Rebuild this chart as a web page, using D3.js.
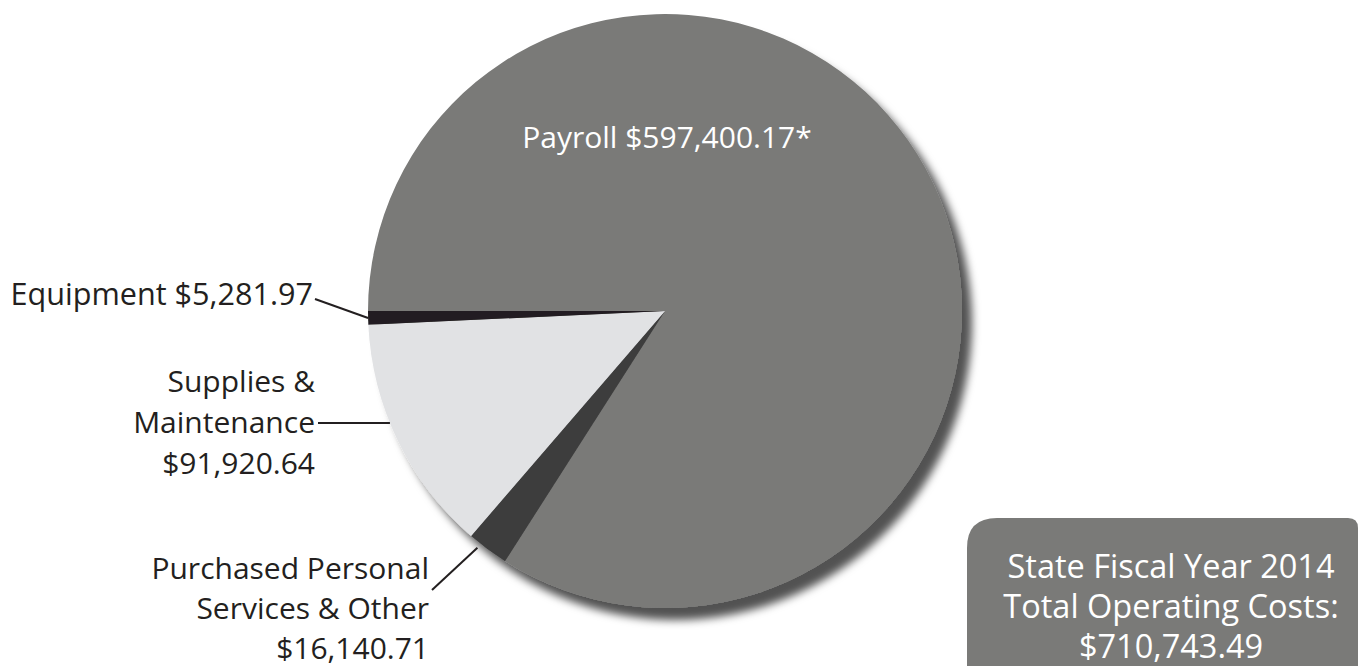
<!DOCTYPE html>
<html>
<head>
<meta charset="UTF-8">
<style>
    body { margin: 0; background: #fff; }
    text { font-family: "Open Sans", sans-serif; font-size: 30px; }
    .lbl { fill: #231f20; text-anchor: end; }
    .leader { stroke: #231f20; stroke-width: 2; fill: none; }
</style>
<script src="https://cdn.jsdelivr.net/npm/d3@7"></script>
</head>
<body>
<script>
// Donnees (ordre horaire a partir de 9 h)
var categories = ["Payroll", "Purchased Personal Services & Other", "Supplies & Maintenance", "Equipment"];
var values = [597400.17, 16140.71, 91920.64, 5281.97];
var valueLabels = ["$597,400.17*", "$16,140.71", "$91,920.64", "$5,281.97"];
var colors = ["#7a7a78", "#3e3e3e", "#e1e2e4", "#231f20"];
var totalLines = ["State Fiscal Year 2014", "Total Operating Costs:", "$710,743.49"];

var width = 1359, height = 666;
var cx = 665, cy = 311, radius = 297;

var svg = d3.select("body").append("svg")
    .attr("width", width)
    .attr("height", height);

// ombre portee
var filter = svg.append("defs").append("filter")
    .attr("id", "shadow")
    .attr("x", "-10%").attr("y", "-10%")
    .attr("width", "130%").attr("height", "130%");
filter.append("feDropShadow")
    .attr("dx", 10).attr("dy", 12)
    .attr("stdDeviation", 4)
    .attr("flood-color", "#000")
    .attr("flood-opacity", 0.68);

var data = categories.map(function(c, i) { return {name: c, value: values[i], color: colors[i]}; });

var pie = d3.pie()
    .sort(null)
    .startAngle(-Math.PI / 2)
    .endAngle(3 * Math.PI / 2)
    .value(function(d) { return d.value; });

var arc = d3.arc().innerRadius(0).outerRadius(radius);
var arcs = pie(data);

var g = svg.append("g")
    .attr("transform", "translate(" + cx + "," + cy + ")");

g.append("g")
    .attr("filter", "url(#shadow)")
    .selectAll("path")
    .data(arcs)
    .enter().append("path")
    .attr("d", arc)
    .attr("fill", function(d) { return d.data.color; });

// point sur le bord du camembert
function edge(a, r) {
    return [cx + r * Math.sin(a), cy - r * Math.cos(a)];
}
function mid(d) { return (d.startAngle + d.endAngle) / 2; }

// Payroll (dans la part)
svg.append("text")
    .attr("x", 667).attr("y", 148)
    .attr("text-anchor", "middle")
    .attr("fill", "#fff")
    .text(categories[0] + " " + valueLabels[0]);

// Equipment
svg.append("text").attr("class", "lbl")
    .attr("x", 313).attr("y", 305)
    .style("font-size", "30.6px")
    .text(categories[3] + " " + valueLabels[3]);
var pe = edge(mid(arcs[3]), radius);
svg.append("line").attr("class", "leader")
    .attr("x1", 315).attr("y1", 299)
    .attr("x2", pe[0]).attr("y2", pe[1]);

// Supplies & Maintenance
var supLines = ["Supplies &", "Maintenance", valueLabels[2]];
svg.selectAll(".sup").data(supLines).enter().append("text")
    .attr("class", "lbl sup")
    .attr("x", 315)
    .attr("y", function(d, i) { return 392 + i * 41; })
    .text(function(d) { return d; });
var ly = 423;
svg.append("line").attr("class", "leader")
    .attr("x1", 318).attr("y1", ly)
    .attr("x2", cx - Math.sqrt(radius * radius - (ly - cy) * (ly - cy))).attr("y2", ly);

// Purchased Personal Services & Other
var purLines = ["Purchased Personal", "Services & Other", valueLabels[1]];
svg.selectAll(".pur").data(purLines).enter().append("text")
    .attr("class", "lbl pur")
    .attr("x", 429)
    .attr("y", function(d, i) { return 579 + i * 40; })
    .text(function(d) { return d; });
var pp = edge(mid(arcs[1]) + 0.03, radius + 5);
svg.append("line").attr("class", "leader")
    .attr("x1", 432).attr("y1", 590)
    .attr("x2", pp[0]).attr("y2", pp[1]);

// Encadre total
var bx = 967, by = 518, bw = 391, r1 = 30, r2 = 10;
svg.append("path")
    .attr("fill", "#7a7a78")
    .attr("d", "M" + bx + "," + (height + 10) +
        " V" + (by + r1) +
        " Q" + bx + "," + by + " " + (bx + r1) + "," + by +
        " H" + (bx + bw - r2) +
        " Q" + (bx + bw) + "," + by + " " + (bx + bw) + "," + (by + r2) +
        " V" + (height + 10) + " Z");

svg.selectAll(".tot").data(totalLines).enter().append("text")
    .attr("class", "tot")
    .attr("x", 1171)
    .attr("y", function(d, i) { return 578 + i * 40; })
    .attr("text-anchor", "middle")
    .attr("fill", "#fff")
    .style("font-size", "32.5px")
    .text(function(d) { return d; });
</script>
</body>
</html>
